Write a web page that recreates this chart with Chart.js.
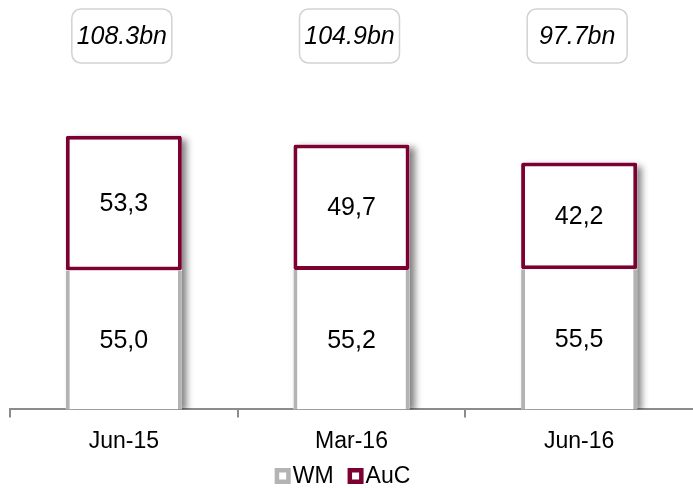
<!DOCTYPE html>
<html>
<head>
<meta charset="utf-8">
<script src="https://cdn.jsdelivr.net/npm/chart.js@4"></script>
<style>
  html, body { margin: 0; padding: 0; background: #fff; }
  #wrap { width: 693px; height: 488px; position: relative; }
</style>
</head>
<body>
<div id="wrap"><canvas id="chart"></canvas></div>
<script>
/* AuM split chart: WM + AuC stacked, totals in boxes above */

const categories = ["Jun-15", "Mar-16", "Jun-16"];
const wmValues = [55.0, 55.2, 55.5];
const aucValues = [53.3, 49.7, 42.2];

const WM_COLOR = "#b3b3b3";
const AUC_COLOR = "#7d0033";
const AXIS_COLOR = "#8c8c8c";
const FONT = "'Liberation Sans', Arial, sans-serif";

function fmtComma(v) { return v.toFixed(1).replace(".", ","); }

function totals() {
  return categories.map((_, i) => wmValues[i] + aucValues[i]);
}

// soft drop shadow behind each full stack
const shadowPlugin = {
  id: "stackShadow",
  beforeDatasetsDraw(chart) {
    const ctx = chart.ctx;
    const area = chart.chartArea;
    const low = chart.getDatasetMeta(0).data;
    const high = chart.getDatasetMeta(1).data;
    ctx.save();
    ctx.beginPath();
    ctx.rect(area.left, 0, area.right - area.left, area.bottom);
    ctx.clip();
    low.forEach((el, i) => {
      const a = el.getProps(["x", "base", "width"], true);
      const b = high[i].getProps(["y"], true);
      ctx.shadowColor = "rgba(0,0,0,0.5)";
      ctx.shadowBlur = 7;
      ctx.shadowOffsetX = 5;
      ctx.shadowOffsetY = 3;
      ctx.fillStyle = "#fff";
      ctx.fillRect(a.x - a.width / 2, b.y, a.width, a.base - b.y);
    });
    ctx.restore();
  }
};

// value labels inside segments, total boxes on top, legend at the bottom
const labelPlugin = {
  id: "valueLabels",
  afterDatasetsDraw(chart) {
    const ctx = chart.ctx;
    ctx.save();
    ctx.fillStyle = "#000";
    ctx.textAlign = "center";
    ctx.textBaseline = "middle";
    ctx.font = "25px " + FONT;
    [wmValues, aucValues].forEach((vals, d) => {
      chart.getDatasetMeta(d).data.forEach((el, i) => {
        const p = el.getProps(["x", "y", "base"], true);
        ctx.fillText(fmtComma(vals[i]), p.x, (p.y + p.base) / 2 + 1);
      });
    });

    const tot = totals();
    ctx.font = "italic 25px " + FONT;
    chart.getDatasetMeta(1).data.forEach((el, i) => {
      const x = el.x - 2;
      const w = 100, h = 54, top = 9;
      ctx.beginPath();
      ctx.roundRect(x - w / 2, top, w, h, 9);
      ctx.lineWidth = 1.5;
      ctx.strokeStyle = "#d2d2d2";
      ctx.stroke();
      ctx.fillText(tot[i].toFixed(1) + "bn", x, top + h / 2 + 1);
    });
    ctx.restore();
  },
  afterDraw(chart) {
    const ctx = chart.ctx;
    const sets = chart.data.datasets;
    const box = 16, gap = 2, sep = 14, y = 476;
    ctx.save();
    ctx.font = "23px " + FONT;
    ctx.textBaseline = "middle";
    ctx.textAlign = "left";
    const widths = sets.map(s => box + gap + ctx.measureText(s.label).width);
    const total = widths.reduce((a, b) => a + b, 0) + sep * (sets.length - 1);
    let x = chart.width / 2 - 4 - total / 2;
    sets.forEach((s, i) => {
      ctx.fillStyle = "#fff";
      ctx.fillRect(x, y - box / 2, box, box);
      ctx.strokeStyle = s.borderColor;
      ctx.lineWidth = 4.5;
      ctx.strokeRect(x + 2.25, y - box / 2 + 2.25, box - 4.5, box - 4.5);
      ctx.fillStyle = "#000";
      ctx.fillText(s.label, x + box + gap, y + 1);
      x += widths[i] + sep;
    });
    ctx.restore();
  }
};

new Chart(document.getElementById("chart"), {
  type: "bar",
  data: {
    labels: categories,
    datasets: [
      {
        label: "WM",
        data: wmValues,
        backgroundColor: "#ffffff",
        borderColor: WM_COLOR,
        borderWidth: { left: 4, right: 4, top: 0, bottom: 0 },
        borderSkipped: false
      },
      {
        label: "AuC",
        data: aucValues,
        backgroundColor: "#ffffff",
        borderColor: AUC_COLOR,
        borderWidth: 4,
        borderSkipped: false,
        borderRadius: 2
      }
    ]
  },
  options: {
    responsive: true,
    maintainAspectRatio: false,
    animation: false,
    devicePixelRatio: 1,
    layout: { padding: { left: 10, right: 0, top: 81, bottom: 23 } },
    datasets: { bar: { categoryPercentage: 1, barPercentage: 0.51 } },
    scales: {
      x: {
        stacked: true,
        grid: {
          display: true,
          drawOnChartArea: false,
          drawTicks: true,
          tickLength: 8,
          lineWidth: 2,
          offset: true,
          // the closing boundary tick sits on the canvas edge and is left out
          color: c => (c.type === "tick" ? AXIS_COLOR : "rgba(0,0,0,0)")
        },
        border: { display: true, color: AXIS_COLOR, width: 2 },
        ticks: { color: "#000", font: { family: FONT, size: 23 }, padding: 10 }
      },
      y: {
        stacked: true,
        display: false,
        min: 0,
        max: 130
      }
    },
    plugins: {
      legend: { display: false },
      tooltip: { enabled: false }
    }
  },
  plugins: [shadowPlugin, labelPlugin]
});
</script>
</body>
</html>
